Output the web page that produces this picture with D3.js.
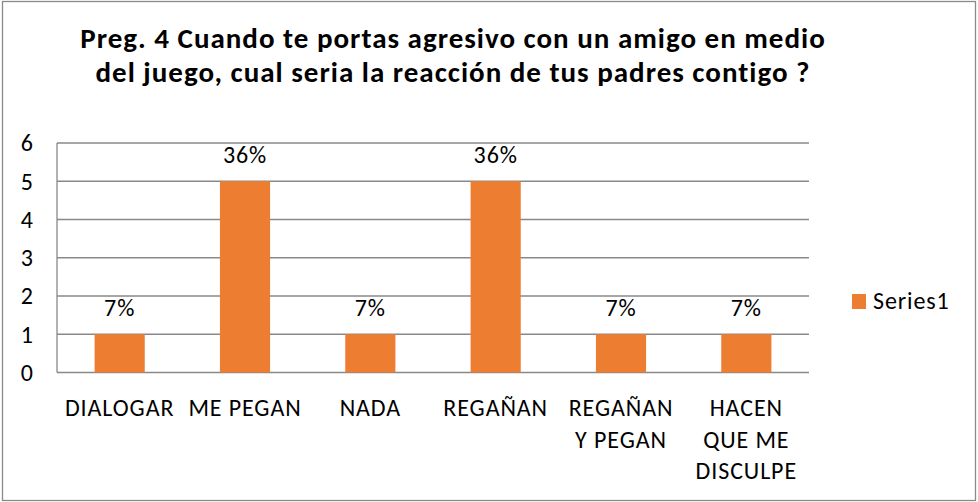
<!DOCTYPE html>
<html>
<head>
<meta charset="utf-8">
<script src="https://cdn.jsdelivr.net/npm/d3@7"></script>
<style>
  body { margin: 0; background: #fff; }
  svg text { font-family: Carlito, Lato, "Open Sans", sans-serif; fill: #000; }
</style>
</head>
<body>
<div id="vis"></div>
<script>
// data
const categories = ["DIALOGAR", "ME PEGAN", "NADA", "REGAÑAN", "REGAÑAN Y PEGAN", "HACEN QUE ME DISCULPE"];
const tickLines = [["DIALOGAR"], ["ME PEGAN"], ["NADA"], ["REGAÑAN"], ["REGAÑAN", "Y PEGAN"], ["HACEN", "QUE ME", "DISCULPE"]];
const values = [1, 5, 1, 5, 1, 1];
const pctLabels = ["7%", "36%", "7%", "36%", "7%", "7%"];
const yTicks = [0, 1, 2, 3, 4, 5, 6];
const titleLines = ["Preg. 4 Cuando te portas agresivo con un amigo en medio",
                    "del juego, cual seria la reacción de tus padres contigo ?"];
const seriesName = "Series1";

const W = 978, H = 502;
const plot = { left: 57, right: 809, top: 143, bottom: 372.5 };
const barColor = "#ED7D31";
const gridColor = "#898989";
const labelSize = 24;
const labelSpacing = "0.9px";

const svg = d3.select("#vis").append("svg")
  .attr("width", W)
  .attr("height", H);

// outer chart border
svg.append("rect")
  .attr("x", 2.5).attr("y", 1.5)
  .attr("width", 973).attr("height", 499)
  .attr("fill", "#fff")
  .attr("stroke", "#8a8a8a")
  .attr("stroke-width", 1.3);

// title
svg.append("text")
  .attr("text-anchor", "middle")
  .attr("font-weight", "bold")
  .attr("font-size", 29)
  .attr("letter-spacing", "1px")
  .selectAll("tspan")
  .data(titleLines)
  .join("tspan")
  .attr("x", 453)
  .attr("y", (d, i) => 48 + i * 34)
  .text(d => d);

const x = d3.scaleBand()
  .domain(categories)
  .range([plot.left, plot.right])
  .paddingInner(0.6)
  .paddingOuter(0.3);

const y = d3.scaleLinear()
  .domain([0, 6])
  .range([plot.bottom, plot.top]);

// gridlines
svg.append("g")
  .selectAll("line")
  .data(yTicks)
  .join("line")
  .attr("x1", plot.left)
  .attr("x2", plot.right)
  .attr("y1", d => y(d))
  .attr("y2", d => y(d))
  .attr("stroke", gridColor)
  .attr("stroke-width", 1.3);

// vertical axis line
svg.append("line")
  .attr("x1", plot.left).attr("x2", plot.left)
  .attr("y1", y(6)).attr("y2", y(0))
  .attr("stroke", gridColor)
  .attr("stroke-width", 1.3);

// y tick labels
svg.append("g")
  .selectAll("text")
  .data(yTicks)
  .join("text")
  .attr("x", 33)
  .attr("y", d => y(d))
  .attr("dy", "0.35em")
  .attr("text-anchor", "end")
  .attr("font-size", labelSize)
  .text(d => d);

// bars
svg.append("g")
  .selectAll("rect")
  .data(values)
  .join("rect")
  .attr("x", (d, i) => x(categories[i]))
  .attr("width", x.bandwidth())
  .attr("y", d => y(d))
  .attr("height", d => y(0) - y(d))
  .attr("fill", barColor);

// value labels
svg.append("g")
  .selectAll("text")
  .data(values)
  .join("text")
  .attr("x", (d, i) => x(categories[i]) + x.bandwidth() / 2)
  .attr("y", d => y(d) - 18)
  .attr("text-anchor", "middle")
  .attr("font-size", labelSize)
  .attr("letter-spacing", labelSpacing)
  .text((d, i) => pctLabels[i]);

// category labels
svg.append("g")
  .selectAll("text")
  .data(categories)
  .join("text")
  .attr("text-anchor", "middle")
  .attr("font-size", labelSize)
  .attr("letter-spacing", labelSpacing)
  .each(function (d, i) {
    d3.select(this).selectAll("tspan")
      .data(tickLines[i])
      .join("tspan")
      .attr("x", x(d) + x.bandwidth() / 2)
      .attr("y", (t, j) => 416 + j * 31.5)
      .text(t => t);
  });

// legend
const legend = svg.append("g");
legend.append("rect")
  .attr("x", 852).attr("y", 294)
  .attr("width", 14).attr("height", 15)
  .attr("fill", barColor);
legend.append("text")
  .attr("x", 873).attr("y", 309)
  .attr("font-size", labelSize)
  .attr("letter-spacing", labelSpacing)
  .text(seriesName);
</script>
</body>
</html>
